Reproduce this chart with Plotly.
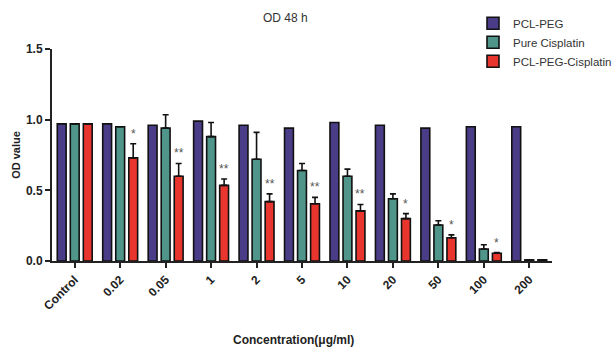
import plotly.graph_objects as go

categories = ["Control", "0.02", "0.05", "1", "2", "5", "10", "20", "50", "100", "200"]
pcl_peg = [0.97, 0.97, 0.96, 0.99, 0.96, 0.94, 0.98, 0.96, 0.94, 0.95, 0.95]
pure_cis = [0.97, 0.95, 0.94, 0.88, 0.72, 0.64, 0.60, 0.44, 0.255, 0.085, 0.008]
pure_cis_err = [0.0, 0.0, 0.095, 0.10, 0.19, 0.05, 0.05, 0.035, 0.03, 0.03, 0.0]
pcl_peg_cis = [0.97, 0.73, 0.60, 0.535, 0.42, 0.405, 0.355, 0.30, 0.165, 0.055, 0.008]
pcl_peg_cis_err = [0.0, 0.10, 0.09, 0.045, 0.055, 0.045, 0.045, 0.035, 0.02, 0.005, 0.0]
stars = ["", "*", "**", "**", "**", "**", "**", "*", "*", "*", ""]

FONT = "Liberation Sans, Arial, sans-serif"

fig = go.Figure()
fig.add_trace(go.Bar(
    name="PCL-PEG", x=categories, y=pcl_peg,
    marker=dict(color="#4b3c88", line=dict(color="#111111", width=1.6)),
))
fig.add_trace(go.Bar(
    name="Pure Cisplatin", x=categories, y=pure_cis,
    marker=dict(color="#4f958a", line=dict(color="#111111", width=1.6)),
    error_y=dict(type="data", array=pure_cis_err, arrayminus=[0] * len(categories),
                 symmetric=False, color="#111111", thickness=1.6, width=3),
))
fig.add_trace(go.Bar(
    name="PCL-PEG-Cisplatin", x=categories, y=pcl_peg_cis,
    marker=dict(color="#e8352e", line=dict(color="#111111", width=1.6)),
    error_y=dict(type="data", array=pcl_peg_cis_err, arrayminus=[0] * len(categories),
                 symmetric=False, color="#111111", thickness=1.6, width=3),
))

for i, (v, e, s) in enumerate(zip(pcl_peg_cis, pcl_peg_cis_err, stars)):
    if s:
        fig.add_annotation(x=i, y=v + e, text=s, showarrow=False, xshift=13, yshift=10,
                           font=dict(family=FONT, size=12, color="#555555"))

fig.add_annotation(x=0.482, y=(261 - 340) / 212, xref="paper", yref="paper",
                   text="Concentration(μg/ml)",
                   showarrow=False, xanchor="center", yanchor="middle",
                   font=dict(family=FONT, size=12, color="#222222", weight="bold"))

fig.update_layout(
    width=615, height=347,
    margin=dict(l=52, r=63, t=49, b=86, autoexpand=False),
    paper_bgcolor="white", plot_bgcolor="white",
    barmode="group", bargap=0.14, bargroupgap=0.32,
    font=dict(family=FONT, color="#222222"),
    title=dict(text="OD 48 h", x=0.464, xanchor="center", y=0.95, yanchor="middle",
               font=dict(family=FONT, size=12, color="#333333")),
    legend=dict(x=0.842, y=1.19, xanchor="left", yanchor="top",
                font=dict(family=FONT, size=11.5, color="#333333"),
                itemwidth=30, tracegroupgap=0, bgcolor="rgba(0,0,0,0)"),
    showlegend=True,
)
fig.update_xaxes(
    type="category", range=[-0.5, 10.5], automargin=False,
    showline=True, linecolor="#222222", linewidth=2,
    ticks="outside", ticklen=5, tickwidth=2, tickcolor="#222222",
    tickangle=-45, tickfont=dict(family=FONT, size=12, color="#222222", weight="bold"),
    showgrid=False, zeroline=False,
)
fig.update_yaxes(
    range=[0, 1.5], tickvals=[0, 0.5, 1.0, 1.5], ticktext=["0.0", "0.5", "1.0", "1.5"],
    automargin=False,
    showline=True, linecolor="#222222", linewidth=2,
    ticks="outside", ticklen=5, tickwidth=2, tickcolor="#222222",
    tickfont=dict(family=FONT, size=12, color="#222222", weight="bold"),
    title=dict(text="OD value", standoff=3,
               font=dict(family=FONT, size=11, color="#222222", weight="bold")),
    showgrid=False, zeroline=False,
)

fig.write_html("out.html")
